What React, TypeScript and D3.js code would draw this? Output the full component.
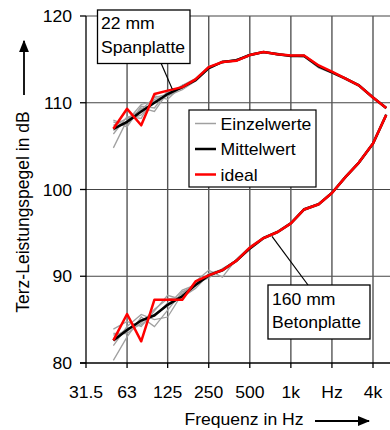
import * as d3 from "d3";

// third-octave band centre frequencies (Hz)
const bands = [50, 63, 80, 100, 125, 160, 200, 250, 315, 400, 500, 630, 800, 1000, 1250, 1600, 2000, 2500, 3150, 4000, 5000];

// 22 mm Spanplatte
const spanIdeal = [107.0, 109.3, 107.4, 111.0, 111.4, 111.8, 112.7, 114.1, 114.7, 114.85, 115.5, 115.85, 115.6, 115.45, 115.45, 114.3, 113.6, 112.8, 112.0, 110.6, 109.4];
const spanMittel = [107.0, 107.8, 109.0, 110.0, 111.0, 111.8, 112.6, 114.0, 114.7, 114.9, 115.5, 115.85, 115.6, 115.4, 115.4, 114.2, 113.5, 112.8, 112.0, 110.6, 109.4];
const spanEinzel = [
  [104.8, 108.0, 108.6, 110.4, 110.8, 111.9, 112.7, 113.9, 114.8, 114.9, 115.6, 115.9, 115.7, 115.4, 115.5, 114.2, 113.5, 112.9, 112.0, 110.7, 109.4],
  [107.8, 107.2, 109.6, 109.4, 111.4, 111.6, 112.8, 114.2, 114.6, 115.0, 115.4, 115.8, 115.6, 115.5, 115.4, 114.1, 113.6, 112.8, 112.1, 110.6, 109.3],
  [106.4, 108.4, 108.2, 110.8, 110.4, 112.0, 112.5, 114.0, 114.8, 114.8, 115.5, 115.9, 115.5, 115.4, 115.3, 114.0, 113.4, 112.7, 111.9, 110.5, 109.4],
  [108.0, 107.4, 109.4, 109.0, 111.2, 111.8, 112.6, 114.2, 114.6, 114.9, 115.6, 115.9, 115.7, 115.5, 115.5, 114.2, 113.5, 112.8, 112.0, 110.6, 109.5],
  [106.8, 107.9, 109.8, 110.2, 110.8, 111.5, 112.5, 113.9, 114.7, 115.0, 115.5, 115.8, 115.6, 115.4, 115.4, 114.1, 113.5, 112.8, 112.0, 110.6, 109.4],
  [107.4, 108.2, 109.2, 110.6, 111.0, 112.0, 112.8, 114.0, 114.7, 114.8, 115.4, 115.8, 115.6, 115.4, 115.4, 114.1, 113.5, 112.8, 112.0, 110.6, 109.4],
];

// 160 mm Betonplatte
const betonIdeal = [82.6, 85.65, 82.5, 87.3, 87.3, 87.3, 89.4, 90.1, 90.7, 91.8, 93.3, 94.4, 95.1, 96.1, 97.7, 98.3, 99.6, 101.4, 103.1, 105.3, 108.6];
const betonMittel = [82.6, 83.8, 84.9, 85.5, 86.7, 87.7, 89.0, 90.1, 90.7, 91.8, 93.2, 94.4, 95.1, 96.1, 97.7, 98.3, 99.6, 101.4, 103.1, 105.3, 108.6];
const betonEinzel = [
  [80.3, 83.0, 85.3, 84.2, 86.1, 88.2, 88.9, 90.3, 90.8, 91.7, 93.2, 94.4, 95.1, 96.1, 97.7, 98.3, 99.6, 101.4, 103.1, 105.3, 108.6],
  [83.9, 84.8, 84.2, 86.0, 87.8, 87.3, 89.4, 90.7, 89.9, 92.0, 93.4, 94.5, 95.2, 96.2, 97.8, 98.4, 99.7, 101.5, 103.1, 105.4, 108.6],
  [82.0, 84.2, 85.6, 85.0, 85.3, 88.0, 89.2, 89.8, 90.9, 91.8, 93.1, 94.3, 95.0, 96.0, 97.6, 98.2, 99.5, 101.3, 103.0, 105.2, 108.5],
  [83.4, 83.4, 84.6, 86.2, 87.4, 87.6, 88.6, 90.2, 90.6, 91.7, 93.3, 94.4, 95.1, 96.1, 97.7, 98.3, 99.6, 101.4, 103.2, 105.3, 108.7],
  [82.8, 84.0, 84.4, 85.6, 86.6, 88.4, 89.0, 90.0, 90.8, 91.9, 93.2, 94.4, 95.1, 96.1, 97.7, 98.3, 99.6, 101.4, 103.1, 105.3, 108.6],
  [83.2, 83.6, 85.0, 85.4, 86.9, 87.5, 89.2, 90.1, 90.6, 91.8, 93.2, 94.4, 95.1, 96.1, 97.7, 98.3, 99.6, 101.4, 103.1, 105.3, 108.6],
];

const xTicks = [31.5, 63, 125, 250, 500, 1000, 2000, 4000];
const xTickLabels = ["31.5", "63", "125", "250", "500", "1k", "Hz", "4k"];
const yTicks = [80, 90, 100, 110, 120];

const legendItems = [
  { label: "Einzelwerte", color: "#a0a0a0", w: 1.5 },
  { label: "Mittelwert", color: "#000", w: 2.5 },
  { label: "ideal", color: "#ff0000", w: 2.5 },
];

const FONT = "'Liberation Sans', Arial, sans-serif";

// text slightly stretched horizontally like the original
function T({ x, y, children, anchor = "start", size = 16 }: any) {
  return (
    <text
      transform={`translate(${x},${y}) scale(1.1,1)`}
      textAnchor={anchor}
      fontSize={size}
      fontFamily={FONT}
      fill="#000"
    >
      {children}
    </text>
  );
}

export default function App() {
  const width = 390;
  const height = 430;
  const x = d3.scaleLog().base(2).domain([31.5, 4000]).range([86, 373]);
  const y = d3.scaleLinear().domain([80, 120]).range([363, 16]);

  const line = d3
    .line<number>()
    .x((_, i) => x(bands[i]))
    .y((d) => y(d));

  const left = x(31.5);
  const bottom = y(80);

  return (
    <svg
      width={width}
      height={height}
      style={{ position: "absolute", left: 0, top: 0, background: "#fff" }}
    >
      <defs>
        <marker id="arr" viewBox="0 0 10 10" refX="9" refY="5" markerWidth="7" markerHeight="7" orient="auto">
          <path d="M0,1 L10,5 L0,9 z" fill="#000" />
        </marker>
      </defs>

      {/* grid */}
      {yTicks.slice(1).map((t) => (
        <line key={"gy" + t} x1={left} x2={width} y1={y(t)} y2={y(t)} stroke="#444" strokeWidth={1.2} />
      ))}
      {xTicks.slice(1).map((t) => (
        <line key={"gx" + t} x1={x(t)} x2={x(t)} y1={y(120)} y2={bottom} stroke="#555" strokeWidth={1.4} />
      ))}

      {/* Einzelwerte */}
      {[...spanEinzel, ...betonEinzel].map((s, i) => (
        <path key={"g" + i} d={line(s) || ""} fill="none" stroke="#a0a0a0" strokeWidth={1.3} />
      ))}
      {/* Mittelwert */}
      {[spanMittel, betonMittel].map((s, i) => (
        <path key={"m" + i} d={line(s) || ""} fill="none" stroke="#000" strokeWidth={2.5} />
      ))}
      {/* ideal */}
      {[spanIdeal, betonIdeal].map((s, i) => (
        <path key={"r" + i} d={line(s) || ""} fill="none" stroke="#ff0000" strokeWidth={2.5} strokeLinejoin="round" />
      ))}

      {/* axes */}
      <line x1={left} x2={left} y1={y(120)} y2={bottom} stroke="#000" strokeWidth={1.3} />
      <line x1={left - 6} x2={width} y1={bottom} y2={bottom} stroke="#000" strokeWidth={1.3} />
      {yTicks.map((t) => (
        <g key={"yt" + t}>
          <line x1={left - 6} x2={left} y1={y(t)} y2={y(t)} stroke="#000" strokeWidth={1.3} />
          <T x={72} y={y(t) + 6} anchor="end">{t}</T>
        </g>
      ))}
      {xTicks.map((t, i) => (
        <g key={"xt" + t}>
          <line x1={x(t)} x2={x(t)} y1={bottom} y2={bottom + 5} stroke="#000" strokeWidth={1.3} />
          <T x={x(t)} y={398} anchor="middle">{xTickLabels[i]}</T>
        </g>
      ))}

      {/* axis titles */}
      <T x={244} y={425} anchor="middle">Frequenz in Hz</T>
      <line x1={315} x2={369} y1={421} y2={421} stroke="#000" strokeWidth={1.8} markerEnd="url(#arr)" />
      <text
        transform="translate(29,212) rotate(-90)"
        textAnchor="middle"
        fontSize={17.5}
        fontFamily={FONT}
      >
        Terz-Leistungspegel in dB
      </text>
      <line x1={24} x2={24} y1={95} y2={41} stroke="#000" strokeWidth={1.8} markerEnd="url(#arr)" />

      {/* legend */}
      <rect x={189} y={110} width={127} height={77} fill="#fff" stroke="#000" strokeWidth={1.2} />
      {legendItems.map((d, i) => (
        <g key={d.label}>
          <line x1={195} x2={216} y1={123.5 + i * 25.5} y2={123.5 + i * 25.5} stroke={d.color} strokeWidth={d.w} />
          <T x={220.5} y={129.5 + i * 25.5}>{d.label}</T>
        </g>
      ))}

      {/* annotations */}
      <line x1={161} y1={63} x2={x(160) - 10} y2={y(spanMittel[5]) + 2} stroke="#000" strokeWidth={1.2} />
      <rect x={97.5} y={10} width={92.5} height={53.5} fill="#fff" stroke="#000" strokeWidth={1.3} />
      <T x={101} y={29}>22 mm</T>
      <T x={101} y={53}>Spanplatte</T>

      <line x1={308} y1={285} x2={272} y2={y(94.6)} stroke="#000" strokeWidth={1.2} />
      <rect x={268} y={285} width={102} height={54} fill="#fff" stroke="#000" strokeWidth={1.3} />
      <T x={272} y={305}>160 mm</T>
      <T x={272} y={328}>Betonplatte</T>
    </svg>
  );
}
